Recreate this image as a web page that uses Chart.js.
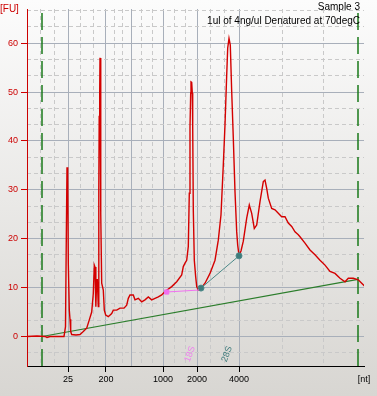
<!DOCTYPE html>
<html>
<head>
<meta charset="utf-8">
<script src="https://cdn.jsdelivr.net/npm/chart.js@4.4.1/dist/chart.umd.min.js"></script>
<style>
html, body { margin: 0; padding: 0; }
body { width: 377px; height: 396px; overflow: hidden; background: linear-gradient(#fcfcfc, #d8d6d2); }
#wrap { position: relative; width: 377px; height: 396px; }
</style>
</head>
<body>
<div id="wrap"><canvas id="chart"></canvas></div>
<script>
// electropherogram, x = migration time (s), y = fluorescence [FU]
var timeS = [20.0, 21.0, 21.8, 22.0, 22.3, 23.7, 23.85, 23.93, 24.0, 24.07, 24.13, 24.23, 24.3, 24.37, 24.47,
    24.9, 25.3, 25.63, 25.97, 26.23, 26.47, 26.63, 26.73, 26.8, 26.87, 26.9, 26.97, 27.03, 27.13, 27.18,
    27.22, 27.27, 27.3, 27.35, 27.4, 27.47, 27.63, 27.73, 27.87, 28.13, 28.47, 28.63, 28.97, 29.3, 29.7,
    29.97, 30.13, 30.3, 30.63, 30.8, 31.13, 31.47, 31.8, 32.13, 32.47, 32.8, 33.13, 33.47, 33.8, 34.47,
    34.97, 35.47, 35.63, 35.8, 35.97, 36.13, 36.23, 36.3, 36.37, 36.4, 36.47, 36.53, 36.57, 36.63, 36.73,
    36.87, 36.97, 37.13, 37.3, 37.4, 37.8, 38.3, 38.8, 39.13, 39.4, 39.63, 39.8, 39.97, 40.07, 40.2,
    40.33, 40.47, 40.63, 40.8, 40.97, 41.07, 41.2, 41.4, 41.63, 41.97, 42.23, 42.47, 42.73, 42.97, 43.3,
    43.63, 43.8, 43.97, 44.13, 44.47, 44.8, 45.13, 45.47, 45.8, 46.13, 46.47, 46.8, 47.13, 47.3, 47.8,
    48.3, 48.8, 49.3, 49.8, 50.3, 50.8, 51.3, 51.8, 52.13, 52.63, 53.13, 53.47, 53.8];
var fu = [0, 0.1, 0, -0.2, 0, 0, 2, 20, 34.6, 33, 15, 5.4, 3.5, 1.0, 0.4,
    0.3, 0.4, 1.0, 1.7, 3.4, 5.0, 8.8, 14.6, 14.2, 11.6, 6.1, 11.6, 11.6, 6.1, 30,
    45, 50, 57.0, 50, 25, 10.9, 9.5, 5.4, 4.4, 4.05, 4.7, 5.4, 5.4, 5.8, 5.8,
    6.4, 7.8, 8.5, 8.5, 7.5, 7.8, 7.1, 7.5, 8.1, 7.5, 7.8, 8.1, 8.5, 9.2, 10.2,
    11.2, 12.6, 14.3, 15.0, 15.6, 18.4, 29.3, 42.9, 49.8, 52.1, 52.0, 49.8, 42.9, 25.9, 15.6,
    12.2, 10.2, 9.5, 9.6, 9.9, 10.9, 12.9, 15.6, 19.7, 24.9, 35.1, 43.3, 53.5, 59.0, 61.0,
    59.6, 50.1, 40.6, 29.6, 21.4, 18.7, 16.6, 17.5, 19.5, 24.2, 26.9, 25.2, 22.1, 22.8, 27.6,
    31.7, 32.0, 30.3, 28.3, 26.2, 25.9, 25.2, 24.5, 24.5, 23.2, 22.5, 21.4, 20.8, 20.4, 19.1,
    17.7, 16.7, 15.6, 14.6, 13.3, 12.9, 11.9, 11.2, 11.9, 11.9, 11.6, 10.9, 10.2];

// ladder positions and their labels
var ladderTime = [24.1, 27.9, 30.4, 33.6, 37.0, 41.2];
var ladderLabels = ['25', '200', '', '1000', '2000', '4000'];
var subGridTime = [21.37, 22.73, 25.37, 26.63, 28.73, 29.57, 31.47, 32.53, 34.73, 35.87, 38.4, 39.8, 45.5, 49.6];
var yTicks = [0, 10, 20, 30, 40, 50, 60];
var ySubTicks = [-3.33, 3.33, 6.67, 13.33, 16.67, 23.33, 26.67, 33.33, 36.67, 43.33, 46.67, 53.33, 56.67, 63.33, 66.67];

// lower / upper markers and baseline
var markerTime = [21.5, 53.1];
var baselineFu = [0, 11.7];
// 18S and 28S fragment points
var rRna18Time = [33.97, 37.2];
var rRna18Fu = [9.1, 9.5];
var rRna28Time = [37.4, 41.2];
var rRna28Fu = [9.9, 16.5];

var sampleName = 'Sample 3';
var sampleNote = '1ul of 4ng/ul Denatured at 70degC';

var xMin = 20, xMax = 53.7, yMin = -6.04, yMax = 67.0;

function pts(xs, ys) {
    return xs.map(function (x, i) { return {x: x, y: ys[i]}; });
}

var textPlugin = {
    id: 'texts',
    afterDraw: function (chart) {
        var c = chart.ctx, a = chart.chartArea, sx = chart.scales.x, sy = chart.scales.y;
        c.save();
        c.font = '10px "Liberation Sans"';
        c.fillStyle = '#000';
        c.textAlign = 'right';
        c.fillText(sampleName, a.right - 4, 9.5);
        c.fillText(sampleNote, a.right - 4, 23.5);
        c.fillStyle = '#cc0000';
        c.textAlign = 'left';
        c.fillText('[FU]', 0, 12);
        c.font = '9px "Liberation Sans"';
        c.textAlign = 'center';
        c.textBaseline = 'middle';
        [['18S', 36.3, '#ee80ee'], ['28S', 40.0, '#3d7b7b']].forEach(function (t) {
            c.save();
            c.translate(sx.getPixelForValue(t[1]), sy.getPixelForValue(-3.6));
            c.rotate(-70 * Math.PI / 180);
            c.fillStyle = t[2];
            c.fillText(t[0], 0, 0);
            c.restore();
        });
        c.restore();
    }
};

new Chart(document.getElementById('chart'), {
    type: 'line',
    data: {
        datasets: [{
            data: pts(rRna18Time, rRna18Fu), borderColor: '#f070f0', backgroundColor: '#f070f0',
            borderWidth: 1, pointRadius: [3, 0], pointStyle: 'rect', order: 0
        }, {
            data: pts(rRna28Time, rRna28Fu), borderColor: '#4b8888', backgroundColor: '#3d7b7b',
            borderWidth: 1, pointRadius: 3, order: 0
        }, {
            data: pts(timeS, fu), borderColor: '#d40000', borderWidth: 1.4, pointRadius: 0, order: 1
        }, {
            data: pts(markerTime, baselineFu), borderColor: '#2b7d2b', borderWidth: 1.2, pointRadius: 0, order: 2
        }, {
            data: pts([markerTime[0], markerTime[0]], [yMin, yMax]), borderColor: '#1a7a1a', borderWidth: 1.5,
            borderDash: [17, 7], pointRadius: 0, order: 3
        }, {
            data: pts([markerTime[1], markerTime[1]], [yMin, yMax]), borderColor: '#1a7a1a', borderWidth: 1.5,
            borderDash: [17, 7], pointRadius: 0, order: 3
        }]
    },
    options: {
        responsive: true,
        maintainAspectRatio: false,
        animation: false,
        layout: {padding: {top: 9, right: 13, left: 0, bottom: 0}},
        plugins: {legend: {display: false}, tooltip: {enabled: false}},
        elements: {line: {tension: 0}},
        scales: {
            x: {
                type: 'linear', min: xMin, max: xMax, position: 'bottom',
                afterBuildTicks: function (s) {
                    s.ticks = ladderTime.concat([xMax]).map(function (v) { return {value: v}; });
                },
                afterFit: function (s) { s.height = 30; },
                ticks: {
                    autoSkip: false, maxRotation: 0, padding: 2, color: '#000',
                    font: {family: 'Liberation Sans', size: 9},
                    callback: function (v) {
                        var i = ladderTime.indexOf(v);
                        return i >= 0 ? ladderLabels[i] : '[nt]';
                    }
                },
                grid: {
                    lineWidth: 1, tickLength: 6,
                    color: function (ctx) { return ctx.tick && ctx.tick.value === xMax ? 'rgba(0,0,0,0)' : '#a8afba'; },
                    tickColor: function (ctx) {
                        if (!ctx.tick) return '#000';
                        return (ctx.tick.value === xMax || ctx.tick.value === 30.4) ? 'rgba(0,0,0,0)' : '#000';
                    }
                },
                border: {color: '#000', width: 1}
            },
            x2: {
                type: 'linear', min: xMin, max: xMax, position: 'bottom',
                afterBuildTicks: function (s) {
                    s.ticks = subGridTime.map(function (v) { return {value: v}; });
                },
                afterFit: function (s) { s.height = 0; },
                ticks: {display: false},
                grid: {color: '#c9c9c9', drawTicks: false},
                border: {display: false, dash: [4, 3]}
            },
            y: {
                type: 'linear', min: yMin, max: yMax, position: 'left',
                afterBuildTicks: function (s) {
                    s.ticks = yTicks.map(function (v) { return {value: v}; });
                },
                afterFit: function (s) { s.width = 27; },
                ticks: {color: '#cc0000', padding: 3, font: {family: 'Liberation Sans', size: 9}},
                grid: {color: '#a8afba', tickColor: '#cc0000', tickLength: 6},
                border: {color: '#cc0000', width: 1}
            },
            y2: {
                type: 'linear', min: yMin, max: yMax, position: 'left',
                afterBuildTicks: function (s) {
                    s.ticks = ySubTicks.map(function (v) { return {value: v}; });
                },
                afterFit: function (s) { s.width = 0; },
                ticks: {display: false},
                grid: {color: '#c9c9c9', drawTicks: false},
                border: {display: false, dash: [4, 3]}
            }
        }
    },
    plugins: [textPlugin]
});
</script>
</body>
</html>
